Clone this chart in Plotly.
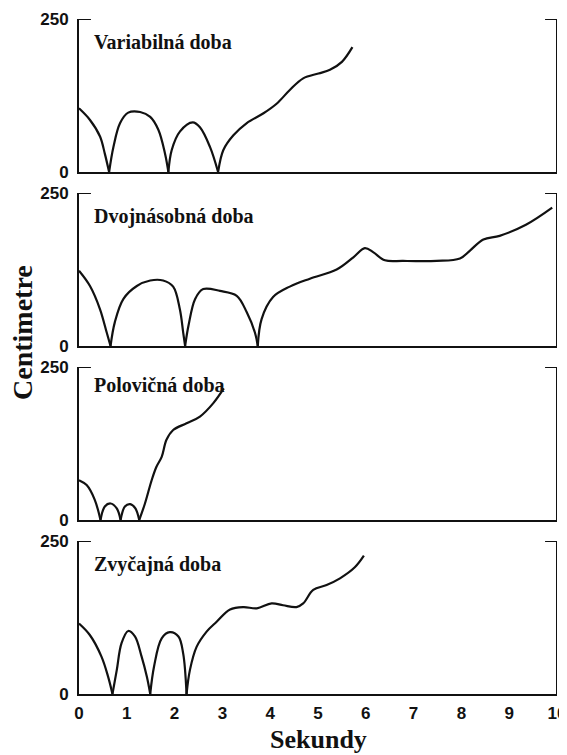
import plotly.graph_objects as go
from plotly.subplots import make_subplots

# ---- data (seconds, centimetres) ----
panel_titles = ["Variabilná doba", "Dvojnásobná doba", "Polovičná doba", "Zvyčajná doba"]

t_var = [0, 0.23, 0.44, 0.54, 0.63, 0.72, 0.86, 1.03, 1.28, 1.49, 1.66, 1.80, 1.87,
         1.94, 2.11, 2.38, 2.53, 2.74, 2.91, 3.02, 3.23, 3.51, 3.86, 4.14, 4.41,
         4.69, 5.01, 5.25, 5.50, 5.72]
y_var = [104, 85, 58, 30, 0, 41, 80, 97, 98, 90, 69, 30, 0,
         36, 66, 81, 73, 41, 0, 36, 60, 80, 96, 112, 134,
         153, 161, 167, 180, 204]

t_dvoj = [0, 0.23, 0.44, 0.58, 0.66, 0.75, 0.93, 1.21, 1.49, 1.76, 1.97, 2.11, 2.18, 2.22,
          2.29, 2.43, 2.60, 2.95, 3.30, 3.51, 3.68, 3.74, 3.82, 4.06, 4.41, 4.83,
          5.39, 5.74, 5.98, 6.16, 6.40, 6.78, 7.48, 7.97, 8.18, 8.46, 8.80, 9.35, 9.90]
y_dvoj = [123, 98, 60, 22, 0, 39, 77, 98, 107, 107, 97, 60, 22, 0,
          33, 77, 93, 90, 82, 55, 22, 0, 44, 80, 97, 110,
          125, 145, 160, 153, 140, 139, 139, 143, 156, 174, 180, 198, 226]

t_pol = [0, 0.16, 0.33, 0.45, 0.54, 0.66, 0.79, 0.87, 0.96, 1.07, 1.18, 1.26,
         1.38, 1.52, 1.62, 1.73, 1.83, 1.97, 2.25, 2.53, 2.81, 3.03]
y_pol = [65, 57, 33, 0, 22, 27, 19, 0, 22, 26, 19, 0,
         27, 65, 87, 103, 131, 147, 158, 169, 191, 215]

t_zvy = [0, 0.23, 0.47, 0.61, 0.70, 0.79, 0.89, 1.03, 1.17, 1.31, 1.42, 1.49,
         1.57, 1.73, 1.90, 2.08, 2.18, 2.25, 2.32, 2.46, 2.67, 2.88, 3.16, 3.44,
         3.72, 4.03, 4.27, 4.55, 4.69, 4.90, 5.18, 5.46, 5.77, 5.96]
y_zvy = [115, 96, 61, 28, 0, 39, 83, 103, 94, 61, 28, 0,
         45, 91, 101, 94, 66, 0, 39, 77, 102, 118, 138, 142,
         140, 148, 145, 142, 148, 170, 178, 189, 207, 226]

series = [(t_var, y_var), (t_dvoj, y_dvoj), (t_pol, y_pol), (t_zvy, y_zvy)]

x_ticks = list(range(0, 11))
y_ticks = [0, 250]

# ---- styling ----
INK = "#111111"
num_font = dict(family="Liberation Sans Narrow, Arial Narrow, Liberation Sans, Arial",
                size=17, color=INK, weight="bold")
serif = "Liberation Serif, Times New Roman, serif"


def split_at_zero(t, y):
    segs = []
    ct, cy = [t[0]], [y[0]]
    for i in range(1, len(t)):
        ct.append(t[i]); cy.append(y[i])
        if y[i] == 0 and i < len(t) - 1:
            segs.append((ct, cy))
            ct, cy = [t[i]], [y[i]]
    segs.append((ct, cy))
    return segs


fig = make_subplots(rows=4, cols=1, shared_xaxes=True, vertical_spacing=21 / 675)

for r, (t, y) in enumerate(series, start=1):
    for st, sy in split_at_zero(t, y):
        fig.add_trace(go.Scatter(x=st, y=sy, mode="lines",
                                 line=dict(color=INK, width=2.2, shape="spline", smoothing=1.0),
                                 showlegend=False, hoverinfo="skip"), row=r, col=1)
    xr = "x" if r == 1 else f"x{r}"
    yr = "y" if r == 1 else f"y{r}"
    # right border and top corner brackets
    fig.add_shape(type="line", xref=xr, yref=yr, x0=10, x1=10, y0=0, y1=250,
                  line=dict(color=INK, width=2))
    fig.add_shape(type="line", xref=xr, yref=yr, x0=0, x1=0.25, y0=250, y1=250,
                  line=dict(color=INK, width=2))
    fig.add_shape(type="line", xref=xr, yref=yr, x0=9.75, x1=10, y0=250, y1=250,
                  line=dict(color=INK, width=2))
    fig.add_annotation(xref=xr, yref=yr, x=0.27, y=212 if r != 3 else 220,
                       text=panel_titles[r - 1], showarrow=False,
                       xanchor="left", yanchor="middle",
                       font=dict(family=serif, size=20, color=INK, weight="bold"))
    fig.update_yaxes(row=r, col=1, range=[0, 250], tickvals=y_ticks,
                     ticktext=[str(v) for v in y_ticks], automargin=False,
                     showline=True, linecolor=INK, linewidth=2, showgrid=False,
                     zeroline=False, ticks="", tickfont=num_font, ticklabelstandoff=5,
                     fixedrange=True)
    fig.update_xaxes(row=r, col=1, range=[0, 10], tickvals=x_ticks,
                     ticktext=[str(v) for v in x_ticks], automargin=False,
                     showline=True, linecolor=INK, linewidth=2, showgrid=False,
                     zeroline=False, ticks="", tickfont=num_font,
                     showticklabels=(r == 4), ticklabelstandoff=3)

fig.add_annotation(xref="paper", yref="paper", x=(22 - 79) / 478, y=(694 - 333) / 675,
                   text="Centimetre", textangle=-90, showarrow=False,
                   xanchor="center", yanchor="middle",
                   font=dict(family=serif, size=28, color=INK, weight="bold"))
fig.add_annotation(xref="paper", yref="paper", x=0.5, y=(694 - 739) / 675,
                   text="Sekundy", showarrow=False, xanchor="center", yanchor="middle",
                   font=dict(family=serif, size=26, color=INK, weight="bold"))

# the page body adds an 8 px offset, so the figure is 8 px smaller and shifted margins
fig.update_layout(width=559, height=747, margin=dict(l=71, r=10, t=11, b=61),
                  paper_bgcolor="white", plot_bgcolor="white", showlegend=False)

fig.write_html("out.html")
